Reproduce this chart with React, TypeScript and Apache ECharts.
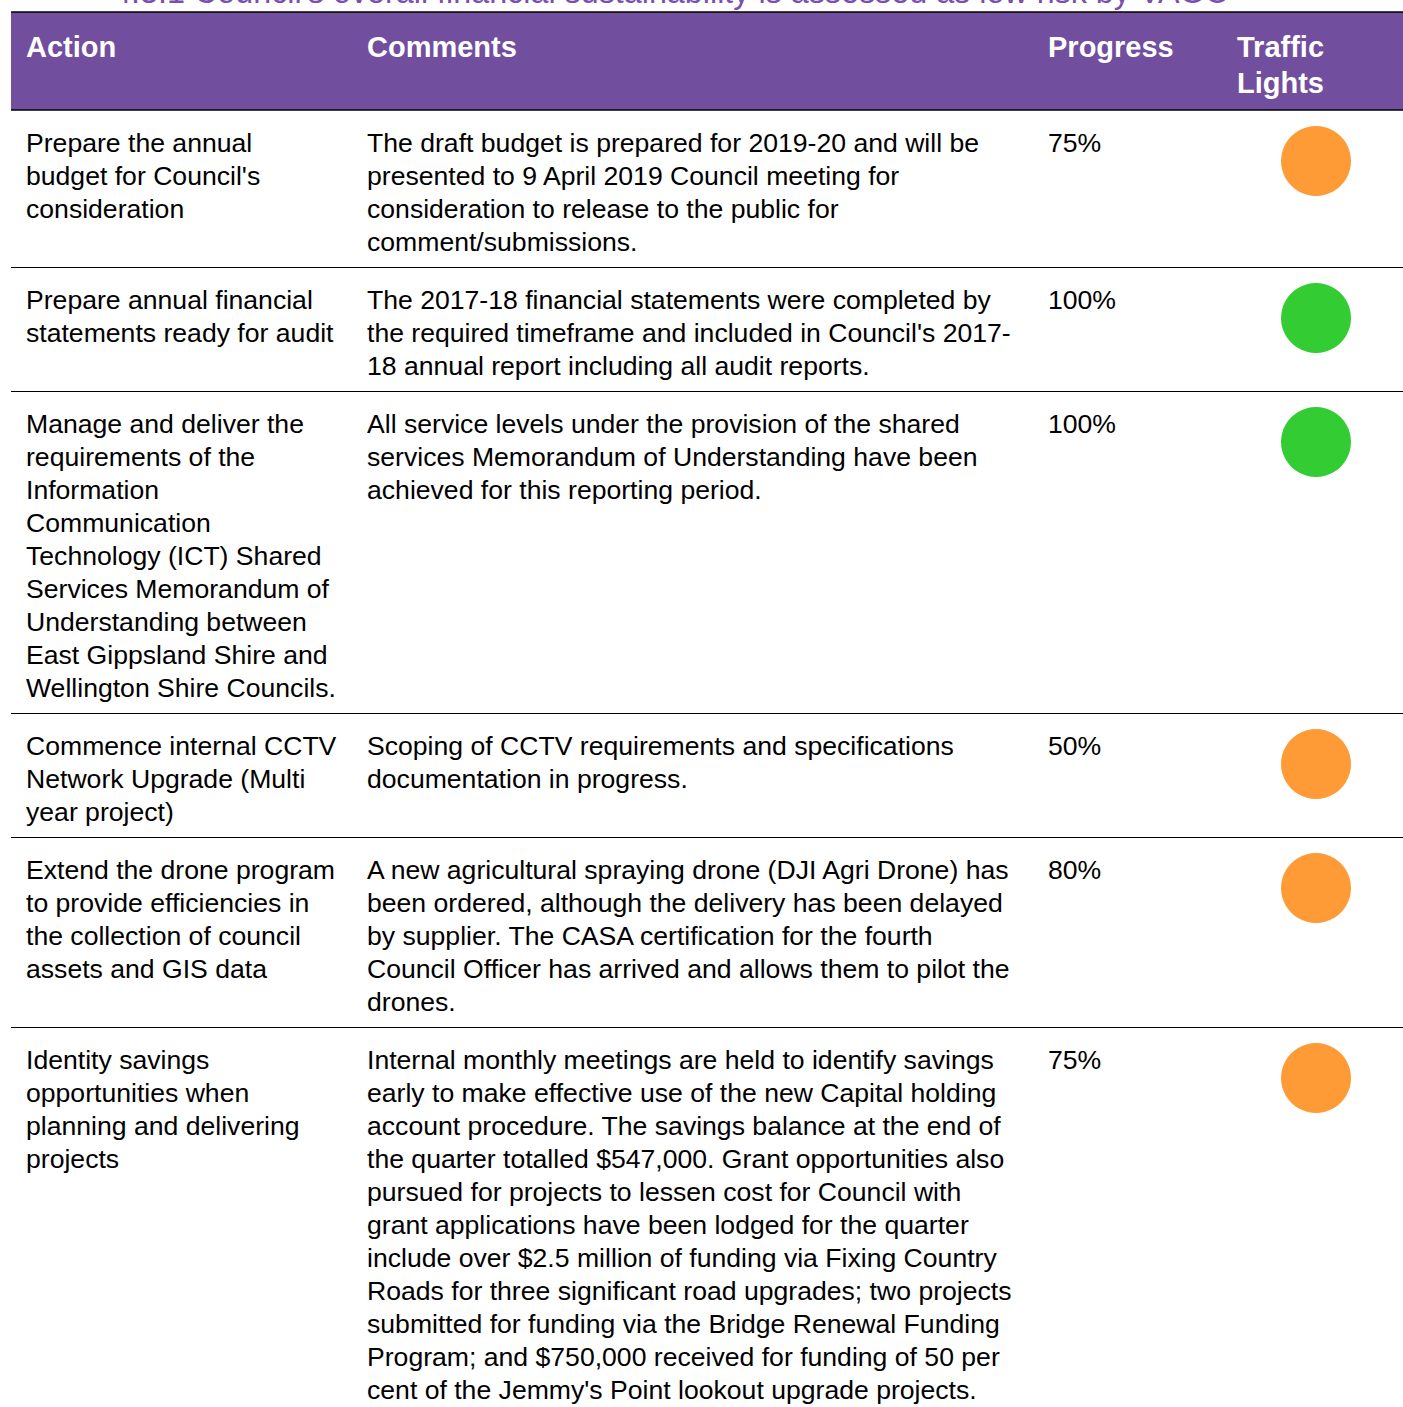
import React, { useEffect, useRef } from "react";
import * as echarts from "echarts";

const titleText = "4.3.1 Council's overall financial sustainability is assessed as low risk by VAGO";
const headers = ["Action", "Comments", "Progress", "Traffic\nLights"];

const actions: string[][] = [
  ["Prepare the annual", "budget for Council's", "consideration"],
  ["Prepare annual financial", "statements ready for audit"],
  ["Manage and deliver the", "requirements of the", "Information", "Communication", "Technology (ICT) Shared", "Services Memorandum of", "Understanding between", "East Gippsland Shire and", "Wellington Shire Councils."],
  ["Commence internal CCTV", "Network Upgrade (Multi", "year project)"],
  ["Extend the drone program", "to provide efficiencies in", "the collection of council", "assets and GIS data"],
  ["Identity savings", "opportunities when", "planning and delivering", "projects"],
];

const comments: string[][] = [
  ["The draft budget is prepared for 2019-20 and will be", "presented to 9 April 2019 Council meeting for", "consideration to release to the public for", "comment/submissions."],
  ["The 2017-18 financial statements were completed by", "the required timeframe and included in Council's 2017-", "18 annual report including all audit reports."],
  ["All service levels under the provision of the shared", "services Memorandum of Understanding have been", "achieved for this reporting period."],
  ["Scoping of CCTV requirements and specifications", "documentation in progress."],
  ["A new agricultural spraying drone (DJI Agri Drone) has", "been ordered, although the delivery has been delayed", "by supplier. The CASA certification for the fourth", "Council Officer has arrived and allows them to pilot the", "drones."],
  ["Internal monthly meetings are held to identify savings", "early to make effective use of the new Capital holding", "account procedure. The savings balance at the end of", "the quarter totalled $547,000. Grant opportunities also", "pursued for projects to lessen cost for Council with", "grant applications have been lodged for the quarter", "include over $2.5 million of funding via Fixing Country", "Roads for three significant road upgrades; two projects", "submitted for funding via the Bridge Renewal Funding", "Program; and $750,000 received for funding of 50 per", "cent of the Jemmy's Point lookout upgrade projects."],
];

const progress = [75, 100, 100, 50, 80, 75];
const lights = ["amber", "green", "green", "amber", "amber", "amber"];

const lightColors: Record<string, string> = { amber: "#FF9B36", green: "#33CC33" };

export default function App() {
  const ref = useRef<HTMLDivElement>(null);
  useEffect(() => {
    if (!ref.current) return;
    const chart = echarts.init(ref.current, null, { renderer: "svg" });
    const W = 1403;
    const left = 11;
    const colX = [26, 367, 1048, 1237];
    const headerTop = 12;
    const headerBottom = 110;
    const lh = 33;
    const font = "26.6px 'Liberation Sans', Arial, sans-serif";
    const hfont = "bold 29px 'Liberation Sans', Arial, sans-serif";
    const els: any[] = [];

    els.push({
      type: "text", x: 671.5, y: -8,
      style: { text: titleText, font: "32.3px 'Liberation Sans', Arial, sans-serif", fill: "#7A4FAE", align: "center", verticalAlign: "middle" },
    });
    els.push({ type: "rect", shape: { x: left, y: headerTop, width: W - left, height: headerBottom - headerTop }, style: { fill: "#724E9E" } });
    els.push({ type: "line", shape: { x1: left, y1: headerTop, x2: W, y2: headerTop }, style: { stroke: "#000", lineWidth: 1.5 } });
    els.push({ type: "line", shape: { x1: left, y1: headerBottom, x2: W, y2: headerBottom }, style: { stroke: "#000", lineWidth: 1.5 } });
    headers.forEach((h, i) => {
      els.push({
        type: "text", x: colX[i], y: 29,
        style: { text: h, font: hfont, fill: "#fff", lineHeight: 36, verticalAlign: "top", align: "left" },
      });
    });

    let top = headerBottom;
    actions.forEach((a, i) => {
      const n = Math.max(a.length, comments[i].length);
      const h = n * lh + 25;
      const ty = top + 16;
      els.push({ type: "text", x: colX[0], y: ty, style: { text: a.join("\n"), font, fill: "#000", lineHeight: lh, verticalAlign: "top" } });
      els.push({ type: "text", x: colX[1], y: ty, style: { text: comments[i].join("\n"), font, fill: "#000", lineHeight: lh, verticalAlign: "top" } });
      els.push({ type: "text", x: colX[2], y: ty, style: { text: progress[i] + "%", font, fill: "#000", lineHeight: lh, verticalAlign: "top" } });
      els.push({ type: "circle", shape: { cx: 1316, cy: top + 51, r: 35 }, style: { fill: lightColors[lights[i]] } });
      top += h;
      if (i < actions.length - 1) {
        els.push({ type: "line", shape: { x1: left, y1: top + 0.5, x2: W, y2: top + 0.5 }, style: { stroke: "#000", lineWidth: 1 } });
      }
    });

    chart.setOption({ animation: false, graphic: { elements: els } });
    return () => chart.dispose();
  }, []);
  return <div ref={ref} style={{ position: "fixed", left: 0, top: 0, width: 1403, height: 1407, background: "#fff" }} />;
}
